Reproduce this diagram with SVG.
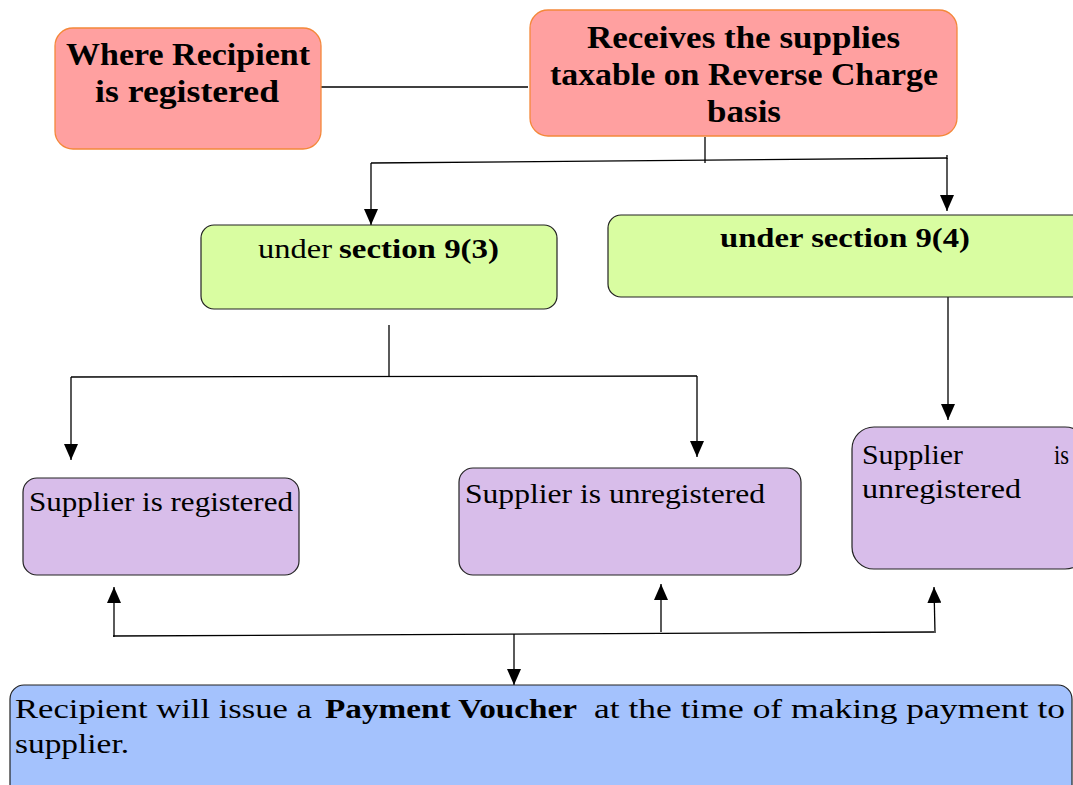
<svg xmlns="http://www.w3.org/2000/svg" width="1073" height="785" viewBox="0 0 1073 785">
<style>
.pink{fill:#ffa0a0;stroke:#f4883a;stroke-width:1.3}
.green{fill:#d9fda1;stroke:#222;stroke-width:1.2}
.purple{fill:#d8bdea;stroke:#222;stroke-width:1.2}
.blue{fill:#a4c2fd;stroke:#222;stroke-width:1.2}
.b{font-family:"Liberation Serif","DejaVu Serif",serif;font-weight:bold;font-size:32px;fill:#000}
.r{font-family:"Liberation Serif","DejaVu Serif",serif;font-size:28px;fill:#000}
.rb{font-family:"Liberation Serif","DejaVu Serif",serif;font-size:28px;font-weight:bold;fill:#000}
.ln{fill:none;stroke:#000;stroke-width:1.3}
</style>
<defs>
<marker id="ah" viewBox="0 0 16 14" refX="16" refY="7" markerWidth="16" markerHeight="14" markerUnits="userSpaceOnUse" orient="auto">
<path d="M0,0 L16,7 L0,14 Z" fill="#000"/>
</marker>
</defs>
<g id="connectors">
<path class="ln" d="M321,87 L528,87"/>
<path class="ln" d="M705,137 L705,163"/>
<path class="ln" d="M371,163 L947,158"/>
<path class="ln" d="M947,155 L947,159"/>
<path class="ln" d="M371,163 L371,225" marker-end="url(#ah)"/>
<path class="ln" d="M947,158 L947,211" marker-end="url(#ah)"/>
<path class="ln" d="M389,325 L389,376"/>
<path class="ln" d="M71,377 L697,376"/>
<path class="ln" d="M71,377 L71,460" marker-end="url(#ah)"/>
<path class="ln" d="M697,376 L697,457" marker-end="url(#ah)"/>
<path class="ln" d="M948,296 L948,420" marker-end="url(#ah)"/>
<path class="ln" d="M113,636 L934,632"/>
<path class="ln" d="M114,637 L114,587" marker-end="url(#ah)"/>
<path class="ln" d="M661,632 L661,584" marker-end="url(#ah)"/>
<path class="ln" d="M935,633 L934,587" marker-end="url(#ah)"/>
<path class="ln" d="M514,634 L514,685" marker-end="url(#ah)"/>
</g>
<g id="n1">
<rect class="pink" x="55" y="28" width="266" height="121" rx="18"/>
<text class="b" x="66" y="65" textLength="244" lengthAdjust="spacingAndGlyphs">Where Recipient</text>
<text class="b" x="95" y="102" textLength="184" lengthAdjust="spacingAndGlyphs">is registered</text>
</g>
<g id="n2">
<rect class="pink" x="530" y="10" width="427" height="126" rx="18"/>
<text class="b" x="587" y="48" textLength="313" lengthAdjust="spacingAndGlyphs">Receives the supplies</text>
<text class="b" x="550" y="85" textLength="388" lengthAdjust="spacingAndGlyphs">taxable on Reverse Charge</text>
<text class="b" x="707" y="122" textLength="74" lengthAdjust="spacingAndGlyphs">basis</text>
</g>
<g id="n3">
<rect class="green" x="201" y="225" width="356" height="84" rx="13"/>
<text class="r" x="258" y="258" textLength="74" lengthAdjust="spacingAndGlyphs">under</text>
<text class="rb" x="339" y="258" textLength="160" lengthAdjust="spacingAndGlyphs">section 9(3)</text>
</g>
<g id="n4">
<rect class="green" x="608" y="215" width="480" height="82" rx="13"/>
<text class="rb" x="720" y="247" textLength="250" lengthAdjust="spacingAndGlyphs">under section 9(4)</text>
</g>
<g id="n5">
<rect class="purple" x="23" y="478" width="276" height="97" rx="14"/>
<text class="r" x="29" y="511" textLength="264" lengthAdjust="spacingAndGlyphs">Supplier is registered</text>
</g>
<g id="n6">
<rect class="purple" x="459" y="468" width="342" height="107" rx="14"/>
<text class="r" x="465" y="503" textLength="300" lengthAdjust="spacingAndGlyphs">Supplier is unregistered</text>
</g>
<g id="n7">
<rect class="purple" x="852" y="427" width="235" height="142" rx="22"/>
<text class="r" x="862" y="464" textLength="101" lengthAdjust="spacingAndGlyphs">Supplier</text>
<text class="r" x="1054" y="464" textLength="15" lengthAdjust="spacingAndGlyphs">is</text>
<text class="r" x="862" y="498" textLength="159" lengthAdjust="spacingAndGlyphs">unregistered</text>
</g>
<g id="n8">
<rect class="blue" x="10" y="685" width="1062" height="115" rx="14"/>
<text class="r" x="15" y="718" textLength="297" lengthAdjust="spacingAndGlyphs">Recipient will issue a</text>
<text class="rb" x="325" y="718" textLength="252" lengthAdjust="spacingAndGlyphs">Payment Voucher</text>
<text class="r" x="594" y="718" textLength="471" lengthAdjust="spacingAndGlyphs">at the time of making payment to</text>
<text class="r" x="15" y="753" textLength="114" lengthAdjust="spacingAndGlyphs">supplier.</text>
</g>
</svg>
